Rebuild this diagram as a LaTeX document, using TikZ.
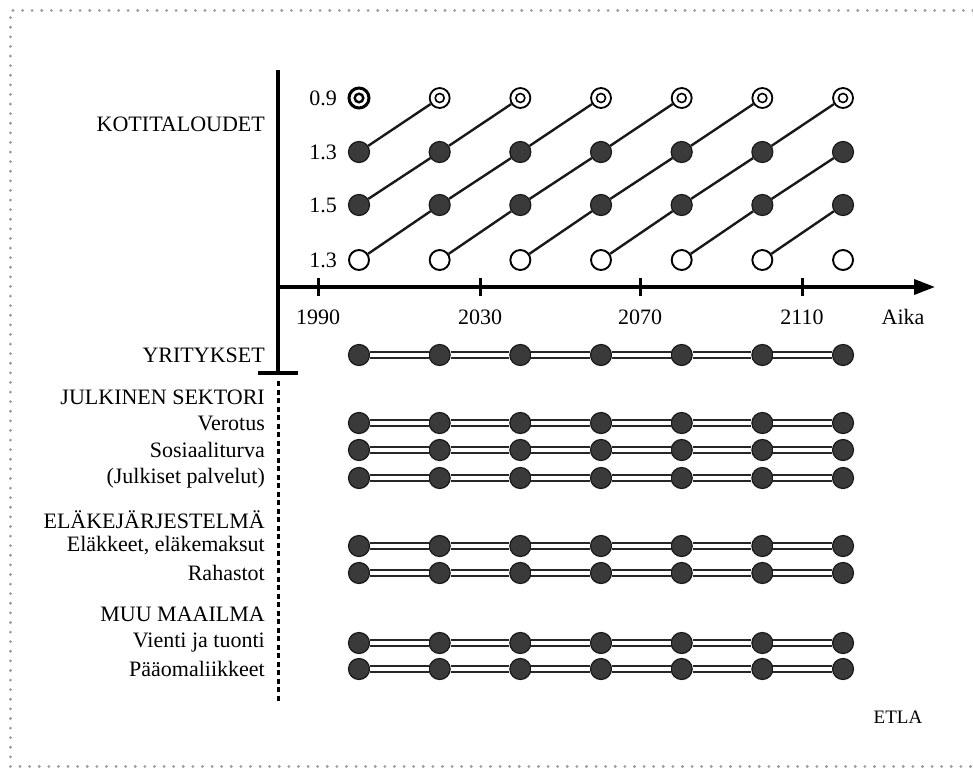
\documentclass[tikz,border=0pt]{standalone}
\usepackage{fontspec}
\setmainfont{Liberation Serif}
\usetikzlibrary{arrows.meta}
\definecolor{dotgrey}{HTML}{3A3A3A}
\definecolor{framegrey}{HTML}{9A9A9A}
\begin{document}
\begin{tikzpicture}[x=1pt,y=-1pt,
  font=\fontsize{22}{25}\selectfont,
  dot/.style={circle,inner sep=0pt,minimum size=21pt,draw=black!90,line width=1.2pt,fill=dotgrey},
  hollow/.style={circle,inner sep=0pt,minimum size=20pt,draw=black,line width=1.9pt,fill=white},
  ring/.style={circle,inner sep=0pt,minimum size=20pt,draw=black,line width=1.8pt,fill=white},
  boldring/.style={ring,line width=3pt},
  cohort/.style={line width=2.4pt,black!90},
  bar/.style={line width=1.9pt,double=white,double distance=3.5pt,draw=black!85},
  axis/.style={line width=3.5pt},
  tickmark/.style={line width=3pt},
  lab/.style={anchor=east,inner sep=0pt},
  val/.style={anchor=east,inner sep=0pt},
  year/.style={inner sep=0pt}
]
\useasboundingbox (0,0) rectangle (973,768);

% dotted frame
\draw[framegrey,line width=3pt,line cap=round,dash pattern=on 0.1pt off 9.5pt]
  (973,11) -- (10,11) -- (10,766) -- (973,766);

% vertical axis with end bar, then dashed continuation
\coordinate (vtop) at (278,70);
\coordinate (vbot) at (278,373);
\coordinate (barL) at (258,373);
\coordinate (barR) at (298,373);
\coordinate (dtop) at (278,381);
\coordinate (dbot) at (278,702);
\draw[axis] (vtop) -- (vbot);
\draw[axis] (barL) -- (barR);
\draw[line width=3pt,dash pattern=on 5pt off 3.5pt] (dtop) -- (dbot);

% time axis
\coordinate (hstart) at (276,287);
\coordinate (hend) at (935,287);
\draw[axis,-{Triangle[length=21pt,width=15pt]}] (hstart) -- (hend);
\foreach \yr/\xx in {1990/318,2030/480,2070/640,2110/802}{
  \draw[tickmark] (\xx,278) -- (\xx,296);
  \node[year] (y\yr) at (\xx,317) {\yr};
}
\node[year] (aika) at (903,317) {Aika};

% sector labels
\node[lab] (kot) at (265,124) {KOTITALOUDET};
\node[lab] (yri) at (265,355) {YRITYKSET};
\node[lab] (jul) at (265,397) {JULKINEN SEKTORI};
\node[lab] (ver) at (265,423) {Verotus};
\node[lab] (sos) at (265,450) {Sosiaaliturva};
\node[lab] (jpa) at (265,478) {(Julkiset palvelut)};
\node[lab] (ela) at (265,520) {ELÄKEJÄRJESTELMÄ};
\node[lab] (elm) at (265,546) {Eläkkeet, eläkemaksut};
\node[lab] (rah) at (265,573) {Rahastot};
\node[lab] (muu) at (265,614) {MUU MAAILMA};
\node[lab] (vie) at (265,643) {Vienti ja tuonti};
\node[lab] (paa) at (265,669) {Pääomaliikkeet};

% age-group values
\node[val] (v1) at (337,98) {0.9};
\node[val] (v2) at (337,152) {1.3};
\node[val] (v3) at (337,205) {1.5};
\node[val] (v4) at (337,260) {1.3};

% household generations
\foreach \c in {1,...,7}{
  \pgfmathsetmacro\xx{359+80.67*(\c-1)}
  \ifnum\c=1
    \node[boldring] (r1c\c) at (\xx,98) {};
    \draw[line width=2.4pt] (r1c\c) circle (4.3pt);
  \else
    \node[ring] (r1c\c) at (\xx,98) {};
    \draw[line width=1.6pt] (r1c\c) circle (4.5pt);
  \fi
  \node[dot] (r2c\c) at (\xx,152) {};
  \node[dot] (r3c\c) at (\xx,205) {};
  \node[hollow] (r4c\c) at (\xx,260) {};
}
\foreach \c [evaluate=\c as \n using int(\c+1)] in {1,...,6}{
  \draw[cohort] (r2c\c) -- (r1c\n);
  \draw[cohort] (r3c\c) -- (r2c\n);
  \draw[cohort] (r4c\c) -- (r3c\n);
}

% other sectors over time
\foreach \r/\yy in {a/355,b/423,c/450,d/478,e/546,f/573,g/643,h/669}{
  \foreach \c in {1,...,7}{
    \pgfmathsetmacro\xx{359+80.67*(\c-1)}
    \node[dot] (\r\c) at (\xx,\yy) {};
  }
  \foreach \c [evaluate=\c as \n using int(\c+1)] in {1,...,6}{
    \draw[bar] (\r\c) -- (\r\n);
  }
}

\node[year] (etla) at (898,717) {\fontsize{19}{22}\selectfont ETLA};
\end{tikzpicture}
\end{document}
